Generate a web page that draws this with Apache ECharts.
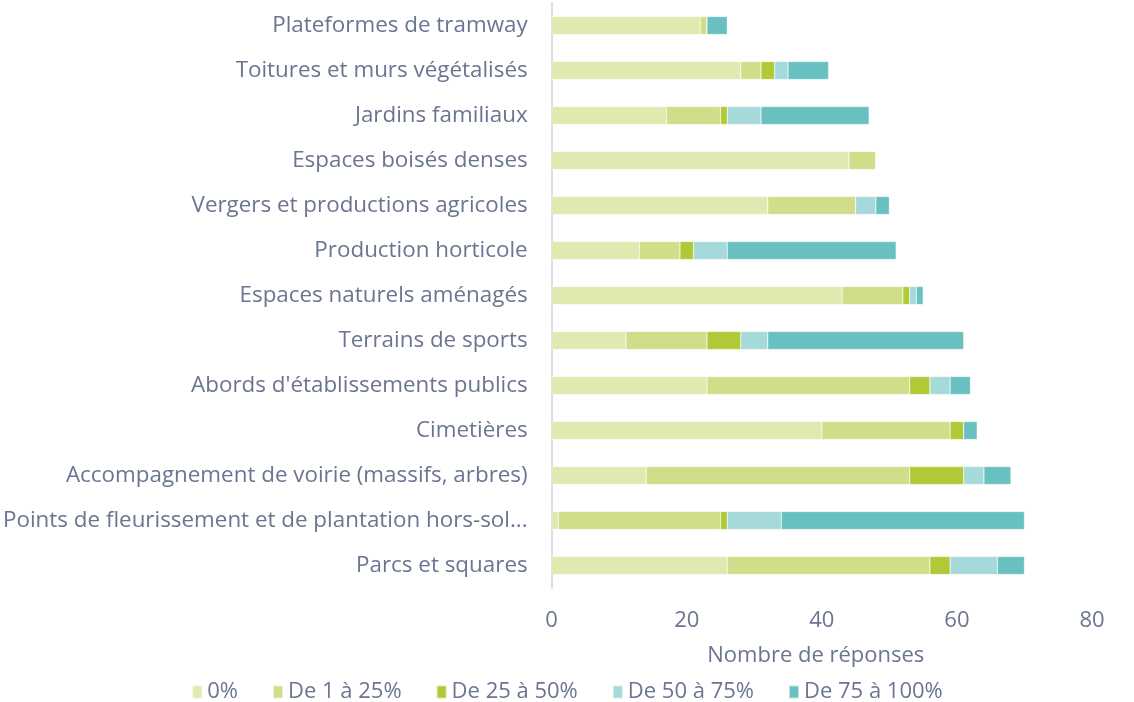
<!DOCTYPE html>
<html>
<head>
<meta charset="utf-8">
<script src="https://cdn.jsdelivr.net/npm/echarts@6/dist/echarts.min.js"></script>
<style>
  html, body { margin: 0; padding: 0; background: #fff; }
  #echarts_bar { width: 1134px; height: 702px; }
</style>
</head>
<body>
<div id="echarts_bar"></div>
<script>
// categories, bottom to top (ECharts draws category axis from the bottom)
var categories = [
    "Parcs et squares",
    "Points de fleurissement et de plantation hors-sol...",
    "Accompagnement de voirie (massifs, arbres)",
    "Cimetières",
    "Abords d'établissements publics",
    "Terrains de sports",
    "Espaces naturels aménagés",
    "Production horticole",
    "Vergers et productions agricoles",
    "Espaces boisés denses",
    "Jardins familiaux",
    "Toitures et murs végétalisés",
    "Plateformes de tramway"
];

var seriesNames = ["0%", "De 1 à 25%", "De 25 à 50%", "De 50 à 75%", "De 75 à 100%"];

var val0   = [26,  1, 14, 40, 23, 11, 43, 13, 32, 44, 17, 28, 22];
var val25  = [30, 24, 39, 19, 30, 12,  9,  6, 13,  4,  8,  3,  1];
var val50  = [ 3,  1,  8,  2,  3,  5,  1,  2,  0,  0,  1,  2,  0];
var val75  = [ 7,  8,  3,  0,  3,  4,  1,  5,  3,  0,  5,  2,  0];
var val100 = [ 4, 36,  4,  2,  3, 29,  1, 25,  2,  0, 16,  6,  3];

var colors = ["#dfe9b0", "#d0de89", "#b0c936", "#a6d9d9", "#68c1c0"];

var textColor = "#6b7591";
var fontFamily = "Open Sans";

var dom = document.getElementById("echarts_bar");
var myChart = echarts.init(dom);
var option = null;

var allValues = [val0, val25, val50, val75, val100];

option = {
    color: colors,
    textStyle: { fontFamily: fontFamily },
    grid: {
        left: 551,
        right: 42,
        top: 3,
        bottom: 114,
        containLabel: false
    },
    legend: {
        top: 676,
        left: 'center',
        itemWidth: 10,
        itemHeight: 13,
        itemGap: 34,
        icon: 'rect',
        textStyle: { color: textColor, fontSize: 22, fontFamily: fontFamily },
        data: seriesNames
    },
    xAxis: {
        type: 'value',
        min: 0,
        max: 80,
        interval: 20,
        name: 'Nombre de réponses',
        nameLocation: 'middle',
        nameGap: 57,
        nameTextStyle: { color: textColor, fontSize: 22, fontFamily: fontFamily, padding: [0, 12, 0, 0] },
        axisLine: { show: false },
        axisTick: { show: false },
        splitLine: { show: false },
        axisLabel: { color: textColor, fontSize: 22, margin: 22, fontFamily: fontFamily }
    },
    yAxis: {
        type: 'category',
        data: categories,
        axisLine: { show: true, lineStyle: { color: '#dcdce3', width: 2 } },
        axisTick: { show: false },
        axisLabel: { color: textColor, fontSize: 22.4, margin: 24, padding: [3, 0, 0, 0], fontFamily: fontFamily }
    },
    series: seriesNames.map(function (name, i) {
        return {
            name: name,
            type: 'bar',
            stack: 'total',
            barWidth: 18,
            itemStyle: { borderColor: 'rgba(255,255,255,0.6)', borderWidth: 0.5 },
            data: allValues[i]
        };
    })
};

if (option && typeof option === "object") {
    myChart.setOption(option, true);
}
</script>
</body>
</html>
